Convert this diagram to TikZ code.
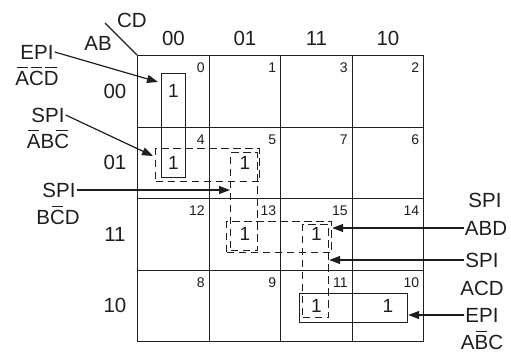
\documentclass[tikz,border=0pt]{standalone}
\usepackage{fontspec}
\setmainfont{Liberation Sans}
\usetikzlibrary{arrows.meta,calc}
\definecolor{ink}{HTML}{1E1E1E}
\newcommand\ovl[1]{\leavevmode\setbox0\hbox{#1}\rlap{\smash{\kern0.1\wd0\raisebox{\dimexpr\ht0+0.14em\relax}{\rule{0.8\wd0}{0.065em}}}}\box0}
\begin{document}
\begin{tikzpicture}[x=1pt,y=-1pt,
  every node/.style={inner sep=1pt,text=ink},
  cell/.style={draw=ink,line width=1.3pt,minimum width=71.5pt,minimum height=71.5pt,inner sep=0pt,anchor=north west},
  big/.style={font=\fontsize{20.5}{24}\selectfont},
  idx/.style={font=\fontsize{14}{16}\selectfont,anchor=east},
  one/.style={font=\fontsize{19}{22}\selectfont},
  sbox/.style={draw=ink,line width=1.2pt,inner sep=0pt,anchor=north west},
  dbox/.style={sbox,dash pattern=on 7.5pt off 4.5pt},
  arr/.style={draw=ink,line width=1.2pt,-{Triangle[length=11pt,width=8pt]}}]
\useasboundingbox (0,0) rectangle (511,354);
% cells
\foreach \n/\c/\r in {0/0/0,1/1/0,3/2/0,2/3/0,4/0/1,5/1/1,7/2/1,6/3/1,12/0/2,13/1/2,15/2/2,14/3/2,8/0/3,9/1/3,11/2/3,10/3/3}{
  \node[cell] (c\n) at ({137+71.5*\c},{55+71.5*\r}) {};
  \node[idx] (n\n) at ($(c\n.north east)+(-4,13)$) {\n};
}
% ones
\foreach \n in {0,4,5,13,15,11,10}{ \node[one] (o\n) at (c\n) {1}; }
% headers
\foreach \n/\t in {0/00,1/01,3/11,2/10}{ \node[big] (h\n) at ($(c\n.north)+(0,-17)$) {\t}; }
\foreach \n/\t in {0/00,4/01,12/11,8/10}{ \node[big] (v\n) at ($(c\n.west)+(-22,0)$) {\t}; }
\node[big] (cd) at (132,20) {CD};
\node[big] (ab) at (98,43) {AB};
\coordinate (dg) at (105,23);
\draw[ink,line width=1.2pt] (dg) -- (c0.north west);
% groups
\node[sbox,minimum width=24pt,minimum height=104pt] (bE1) at (161,73) {};
\node[dbox,minimum width=104pt,minimum height=33pt] (bS1) at (155,148) {};
\node[dbox,minimum width=27pt,minimum height=98pt] (bS2) at (230,152) {};
\node[dbox,minimum width=105pt,minimum height=31pt] (bS3) at (226,221) {};
\node[dbox,minimum width=26pt,minimum height=93pt] (bS4) at (302,224) {};
\node[sbox,minimum width=108pt,minimum height=29pt] (bE2) at (299,293) {};
% left labels
\node[big] (la1) at (37,52) {EPI};
\node[big] (la2) at (37,78) {\ovl{A}\ovl{C}\ovl{D}};
\node[big] (lb1) at (48,115) {SPI};
\node[big] (lb2) at (48,141) {\ovl{A}B\ovl{C}};
\node[big] (lc1) at (59,190) {SPI};
\node[big] (lc2) at (58,217) {B\ovl{C}D};
% right labels
\node[big] (ra1) at (485,200) {SPI};
\node[big] (ra2) at (486,228) {ABD};
\node[big] (rb1) at (482,260) {SPI};
\node[big] (rb2) at (482,288) {ACD};
\node[big] (rc1) at (482,315) {EPI};
\node[big] (rc2) at (482,342) {A\ovl{B}C};
% arrows
\coordinate (ta1) at (158,82);
\coordinate (tb1) at (153,156);
\draw[arr] (la1.east) -- (ta1);
\draw[arr] (lb1.east) -- (tb1);
\draw[arr] (lc1.east) -- (lc1.east -| bS2.west);
\draw[arr] (ra2.west) -- (ra2.west -| bS3.east);
\draw[arr] (rb1.west) -- (rb1.west -| bS4.east);
\draw[arr] (rc1.west) -- (rc1.west -| bE2.east);
\end{tikzpicture}
\end{document}
